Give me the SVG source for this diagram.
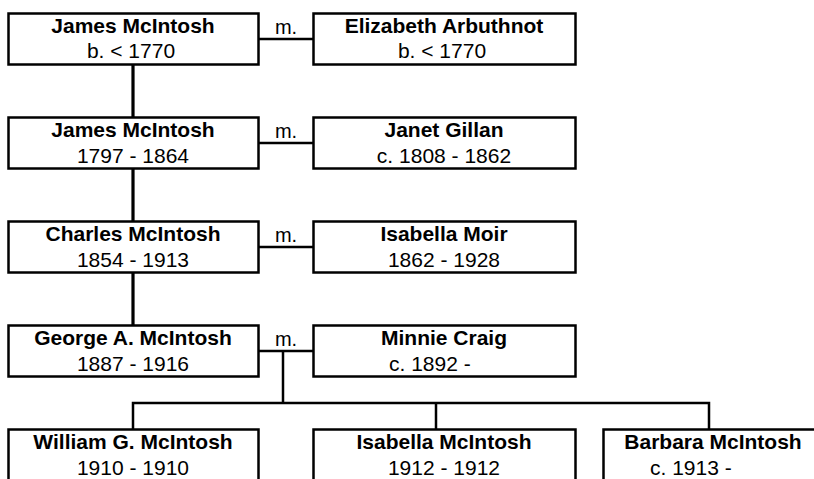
<svg xmlns="http://www.w3.org/2000/svg" width="814" height="479" viewBox="0 0 814 479">
<style>
.box{fill:#fff;stroke:#000;stroke-width:2.5}
.nm{font-family:"Liberation Sans",Arial,sans-serif;font-size:21px;font-weight:bold;fill:#000;text-anchor:middle}
.dt{font-family:"Liberation Sans",Arial,sans-serif;font-size:21px;fill:#000;text-anchor:middle}
.ds{font-family:"Liberation Sans",Arial,sans-serif;font-size:21px;fill:#000}
.m{font-family:"Liberation Sans",Arial,sans-serif;font-size:20px;fill:#000;text-anchor:middle}
.pc{stroke:#000;stroke-width:3.2;fill:none}
.mr{stroke:#000;stroke-width:2.3;fill:none}
.ch{stroke:#000;stroke-width:2.5;fill:none}
</style>
<rect width="814" height="479" fill="#fff"/>
<g id="connectors">
<line class="pc" x1="133" y1="64" x2="133" y2="118"/>
<line class="pc" x1="133" y1="169" x2="133" y2="222"/>
<line class="pc" x1="133" y1="273" x2="133" y2="326"/>
<line class="mr" x1="258" y1="39" x2="313" y2="39"/>
<line class="mr" x1="258" y1="143" x2="313" y2="143"/>
<line class="mr" x1="258" y1="247" x2="313" y2="247"/>
<line class="mr" x1="258" y1="351" x2="313" y2="351"/>
<line class="ch" x1="283" y1="351" x2="283" y2="403"/>
<polyline class="ch" points="133,429 133,403 709,403 709,429"/>
<line class="ch" x1="436" y1="403" x2="436" y2="429"/>
<text class="m" x="286" y="34">m.</text>
<text class="m" x="286" y="138">m.</text>
<text class="m" x="286" y="242">m.</text>
<text class="m" x="286" y="346">m.</text>
</g>
<g id="n1">
<rect class="box" x="8.5" y="13.5" width="250" height="51"/>
<text class="nm" x="133" y="33">James McIntosh</text>
<text class="dt" x="131" y="58">b. &lt; 1770</text>
</g>
<g id="n2">
<rect class="box" x="313.5" y="13.5" width="262" height="51"/>
<text class="nm" x="444" y="33">Elizabeth Arbuthnot</text>
<text class="dt" x="442" y="58">b. &lt; 1770</text>
</g>
<g id="n3">
<rect class="box" x="8.5" y="117.5" width="250" height="51"/>
<text class="nm" x="133" y="137">James McIntosh</text>
<text class="dt" x="133" y="163">1797 - 1864</text>
</g>
<g id="n4">
<rect class="box" x="313.5" y="117.5" width="262" height="51"/>
<text class="nm" x="444" y="137">Janet Gillan</text>
<text class="dt" x="444" y="163">c. 1808 - 1862</text>
</g>
<g id="n5">
<rect class="box" x="8.5" y="221.5" width="250" height="51"/>
<text class="nm" x="133" y="241">Charles McIntosh</text>
<text class="dt" x="133" y="267">1854 - 1913</text>
</g>
<g id="n6">
<rect class="box" x="313.5" y="221.5" width="262" height="51"/>
<text class="nm" x="444" y="241">Isabella Moir</text>
<text class="dt" x="444" y="267">1862 - 1928</text>
</g>
<g id="n7">
<rect class="box" x="8.5" y="325.5" width="250" height="51"/>
<text class="nm" x="133" y="345">George A. McIntosh</text>
<text class="dt" x="133" y="371">1887 - 1916</text>
</g>
<g id="n8">
<rect class="box" x="313.5" y="325.5" width="262" height="51"/>
<text class="nm" x="444" y="345">Minnie Craig</text>
<text class="ds" x="389" y="371">c. 1892 -</text>
</g>
<g id="n9">
<rect class="box" x="8.5" y="429.5" width="250" height="51"/>
<text class="nm" x="133" y="449">William G. McIntosh</text>
<text class="dt" x="133" y="475">1910 - 1910</text>
</g>
<g id="n10">
<rect class="box" x="313.5" y="429.5" width="262" height="51"/>
<text class="nm" x="444" y="449">Isabella McIntosh</text>
<text class="dt" x="444" y="475">1912 - 1912</text>
</g>
<g id="n11">
<rect class="box" x="603.5" y="429.5" width="262" height="51"/>
<text class="nm" x="713" y="449">Barbara McIntosh</text>
<text class="ds" x="650" y="475">c. 1913 -</text>
</g>
</svg>
